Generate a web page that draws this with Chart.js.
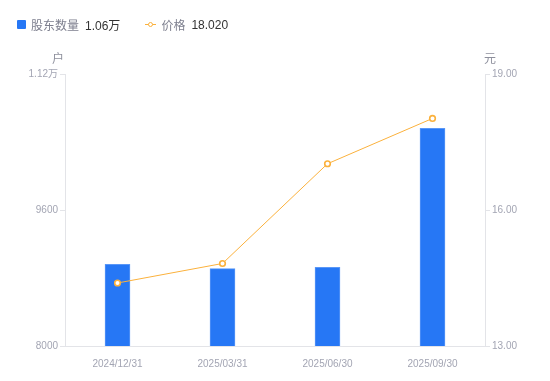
<!DOCTYPE html>
<html>
<head>
<meta charset="utf-8">
<script src="https://cdn.jsdelivr.net/npm/chart.js@4"></script>
<style>
  body { margin: 0; background: #fff; font-family: "Liberation Sans", "Noto Sans CJK SC", sans-serif; }
  #wrap { position: relative; width: 550px; height: 381px; }
  #legend { position: absolute; left: 17px; top: 16px; font-size: 12px; display: flex; align-items: center; white-space: nowrap; }
  .item { display: flex; align-items: center; margin-right: 25px; }
  .name { color: #7d7f8e; margin-right: 6px; }
  .val { color: #333; }
  .box { width: 9px; height: 9px; background: #2677f5; border-radius: 1px; margin-right: 5px; }
  .lineIcon { position: relative; width: 11px; height: 9px; margin-right: 5px; }
  .lineIcon i { position: absolute; left: 0; right: 0; top: 4px; height: 1px; background: #fbb13c; }
  .lineIcon b { position: absolute; left: 3px; top: 1.5px; width: 3px; height: 3px; border: 1.5px solid #fbb13c; border-radius: 50%; background: #fff; }
</style>
</head>
<body>
<div id="wrap">
  <div id="legend">
    <div class="item"><span class="box"></span><span class="name">股东数量</span><span class="val">1.06万</span></div>
    <div class="item"><span class="lineIcon"><i></i><b></b></span><span class="name">价格</span><span class="val">18.020</span></div>
  </div>
  <canvas id="chart" width="550" height="381"></canvas>
</div>
<script>
// data
const dates = ['2024/12/31', '2025/03/31', '2025/06/30', '2025/09/30'];
const holders = [8960, 8911, 8925, 10560];
const prices = [14.39, 14.82, 17.02, 18.02];
const leftTicks = [8000, 9600, 11200];
const rightTicks = [13, 16, 19];

const tickColor = '#a3a5b3';
const axisColor = '#e3e4e8';

// axis unit titles above each y axis
const unitTitles = {
  id: 'unitTitles',
  afterDraw(chart) {
    const ctx = chart.ctx;
    const top = chart.chartArea.top;
    ctx.save();
    ctx.font = '12px "Noto Sans CJK SC", sans-serif';
    ctx.fillStyle = '#8d8f9c';
    ctx.textBaseline = 'middle';
    ctx.textAlign = 'center';
    ctx.fillText('户', chart.scales.y.right - 7, top - 16);
    ctx.fillText('元', chart.scales.y1.left + 5, top - 16);
    ctx.restore();
  }
};

const ctx = document.getElementById('chart').getContext('2d');
new Chart(ctx, {
  data: {
    labels: dates,
    datasets: [
      {
        type: 'line',
        label: '价格',
        data: prices,
        yAxisID: 'y1',
        borderColor: '#fbb13c',
        borderWidth: 1,
        pointRadius: 2.8,
        pointBorderWidth: 1.6,
        pointBackgroundColor: '#fff',
        pointBorderColor: '#fbb13c',
        tension: 0,
        order: 0
      },
      {
        type: 'bar',
        label: '股东数量',
        data: holders,
        yAxisID: 'y',
        backgroundColor: '#2677f5',
        borderColor: '#5a97f7',
        borderWidth: { top: 1, left: 1, right: 1, bottom: 0 },
        barThickness: 25,
        order: 1
      }
    ]
  },
  options: {
    responsive: false,
    animation: false,
    layout: { padding: { top: 74, left: 0, right: 0, bottom: 0 } },
    plugins: { legend: { display: false }, tooltip: { enabled: false } },
    scales: {
      x: {
        grid: { display: false },
        border: { display: true, color: axisColor },
        ticks: { color: tickColor, font: { size: 10, family: '"Liberation Sans", sans-serif' }, padding: 4 },
        afterFit(scale) { scale.height = 35; }
      },
      y: {
        position: 'left',
        min: 8000,
        max: 11200,
        afterBuildTicks(scale) { scale.ticks = leftTicks.map(v => ({ value: v })); },
        ticks: {
          color: tickColor,
          font: { size: 10, family: '"Liberation Sans", "Noto Sans CJK SC", sans-serif' },
          padding: 2,
          callback: v => v >= 10000 ? (v / 10000).toFixed(2) + '万' : String(v)
        },
        grid: { drawOnChartArea: false, drawTicks: true, tickLength: 5, color: axisColor },
        border: { display: true, color: axisColor },
        afterFit(scale) { scale.width = 65; }
      },
      y1: {
        position: 'right',
        min: 13,
        max: 19,
        afterBuildTicks(scale) { scale.ticks = rightTicks.map(v => ({ value: v })); },
        ticks: {
          color: tickColor,
          font: { size: 10, family: '"Liberation Sans", sans-serif' },
          padding: 2,
          callback: v => v.toFixed(2)
        },
        grid: { drawOnChartArea: false, drawTicks: true, tickLength: 5, color: axisColor },
        border: { display: true, color: axisColor },
        afterFit(scale) { scale.width = 65; }
      }
    }
  },
  plugins: [unitTitles]
});
</script>
</body>
</html>
